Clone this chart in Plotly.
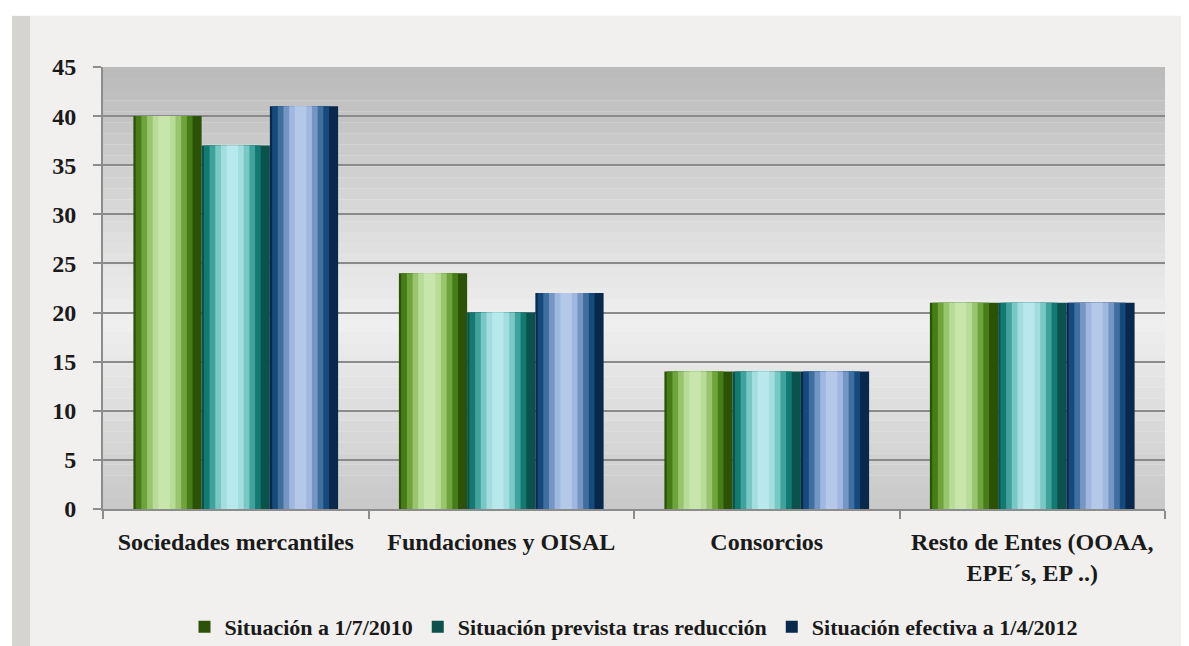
import plotly.graph_objects as go

categories = ["Sociedades mercantiles", "Fundaciones y OISAL", "Consorcios",
              "Resto de Entes (OOAA,<br>EPE´s, EP ..)"]
series_names = ["Situación a 1/7/2010", "Situación prevista tras reducción",
                "Situación efectiva a 1/4/2012"]
sit_2010 = [40, 24, 14, 21]
sit_prevista = [37, 20, 14, 21]
sit_2012 = [41, 22, 14, 21]
y_ticks = [0, 5, 10, 15, 20, 25, 30, 35, 40, 45]

# dark edge -> light centre, one ramp per series (cylinder look)
ramps = [
    ["#2c5208", "#467d18", "#6fa33c", "#98c56d", "#b8dc97", "#c8e6ab"],
    ["#0b514c", "#137a72", "#3fa29c", "#78c8c6", "#a3dde0", "#b6e8ec"],
    ["#08284c", "#164a7c", "#3f6f9f", "#7596c4", "#a0b8e0", "#b4c8ea"],
]
all_values = [sit_2010, sit_prevista, sit_2012]

bar_w = 0.257
start = -1.5 * bar_w

fig = go.Figure()
for s, vals in enumerate(all_values):
    left = start + s * bar_w
    ramp = ramps[s]
    n = len(ramp)
    for k in range(n):
        w = bar_w * (1 - k / n)
        centre = left + bar_w * 0.45
        off = max(left, min(centre - w / 2, left + bar_w - w))
        fig.add_trace(go.Bar(
            x=categories, y=vals, name=series_names[s],
            width=w, offset=off,
            marker=dict(color=ramp[k], line=dict(width=0)),
            showlegend=(k == 0), legendgroup=series_names[s],
            hoverinfo="skip" if k else None,
        ))

# plot-area grey gradient
shapes = []
bands = 40
for i in range(bands):
    t = (i + 0.5) / bands  # 0 bottom, 1 top
    if t < 0.42:
        g = 200 + (240 - 200) * (t / 0.42)
    else:
        g = 240 - (240 - 186) * ((t - 0.42) / 0.58)
    g = int(g)
    shapes.append(dict(type="rect", xref="x domain", yref="y domain",
                       x0=0, x1=1, y0=i / bands, y1=(i + 1) / bands,
                       fillcolor=f"rgb({g},{g},{g})", line=dict(width=0),
                       layer="below"))
# page edge: white margin and grey stripe on the left/top
shapes += [
    dict(type="rect", xref="paper", yref="paper", x0=-0.1, x1=-0.0857,
         y0=-0.35, y1=1.14, fillcolor="white", line=dict(width=0), layer="below"),
    dict(type="rect", xref="paper", yref="paper", x0=-0.0857, x1=-0.0687,
         y0=-0.35, y1=1.116, fillcolor="#d6d4d0", line=dict(width=0), layer="below"),
    dict(type="rect", xref="paper", yref="paper", x0=-0.1, x1=1.04,
         y0=1.116, y1=1.14, fillcolor="white", line=dict(width=0), layer="below"),
]

font_family = "Liberation Serif"

fig.update_layout(
    width=1189, height=646,
    barmode="overlay",
    paper_bgcolor="#f1f0ee",
    plot_bgcolor="rgba(0,0,0,0)",
    margin=dict(l=95, r=32, t=59, b=145),
    font=dict(family=font_family, color="#1a1a1a"),
    shapes=shapes,
    xaxis=dict(
        automargin=False,
        showgrid=False, showline=True, linecolor="#8c8c8c", linewidth=2,
        ticks="outside", tickson="boundaries", ticklen=8, tickcolor="#8c8c8c",
        tickwidth=2, ticklabelstandoff=10,
        tickfont=dict(size=24, family=font_family, weight="bold", color="#1a1a1a"),
    ),
    yaxis=dict(
        automargin=False,
        range=[0, 45], tickvals=y_ticks, showgrid=True, gridcolor="#8a8a8a",
        gridwidth=2, showline=True, linecolor="#8c8c8c", linewidth=2,
        ticks="outside", ticklen=8, tickcolor="#8c8c8c", tickwidth=2,
        zeroline=False, ticklabelstandoff=12,
        tickfont=dict(size=24, family=font_family, weight="bold", color="#1a1a1a"),
    ),
    legend=dict(
        orientation="h", x=0.5, xanchor="center",
        yref="container", y=0.042, yanchor="middle",
        font=dict(size=22, family=font_family, weight="bold", color="#1a1a1a"),
        bgcolor="rgba(0,0,0,0)", itemwidth=30,
    ),
)

fig.write_html("out.html")
